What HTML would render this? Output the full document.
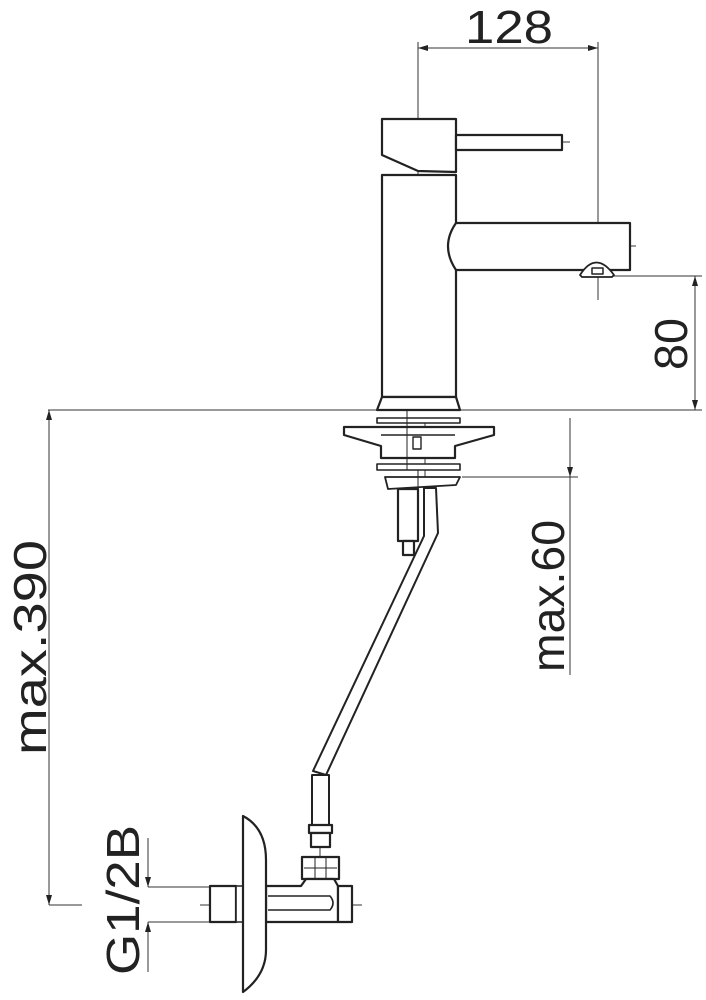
<!DOCTYPE html>
<html><head><meta charset="utf-8"><style>
html,body{margin:0;padding:0;background:#fff}
svg{display:block}
text{font-family:"Liberation Sans",Arial,sans-serif;fill:#222}
</style></head><body>
<svg width="706" height="1000" viewBox="0 0 706 1000" xmlns="http://www.w3.org/2000/svg">
<defs>
<marker id="a" viewBox="0 0 10 10" refX="10" refY="5" markerWidth="10" markerHeight="10" markerUnits="userSpaceOnUse" orient="auto-start-reverse"><path d="M0,2 L10,5 L0,8z" fill="#222"/></marker>
</defs>
<g stroke="#333" stroke-width="1" fill="none">
<line x1="418" y1="42" x2="418" y2="410"/>
<line x1="598" y1="42" x2="598" y2="300"/>
<line x1="418" y1="48" x2="598" y2="48" marker-start="url(#a)" marker-end="url(#a)"/>
<line x1="600" y1="276" x2="702" y2="276"/>
<line x1="48" y1="410" x2="702" y2="410"/>
<line x1="695" y1="276" x2="695" y2="410" marker-start="url(#a)" marker-end="url(#a)"/>
<line x1="462" y1="477" x2="578" y2="477"/>
<line x1="570" y1="418" x2="570" y2="477" marker-end="url(#a)"/>
<line x1="570" y1="477" x2="570" y2="675"/>
<line x1="49" y1="410" x2="49" y2="905" marker-start="url(#a)" marker-end="url(#a)"/>
<line x1="49" y1="905" x2="82" y2="905"/>
<line x1="148" y1="838" x2="148" y2="887" marker-end="url(#a)"/>
<line x1="148" y1="922" x2="148" y2="972" marker-start="url(#a)"/>
<line x1="148" y1="887" x2="215" y2="887"/>
<line x1="148" y1="922" x2="215" y2="922"/>
<line x1="440" y1="142" x2="570" y2="142"/>
<line x1="443" y1="246" x2="636" y2="246"/>
<line x1="425" y1="418" x2="425" y2="540"/>
<line x1="200" y1="905" x2="362" y2="905"/>
<line x1="320" y1="780" x2="320" y2="890"/>
</g>
<g stroke="#222" stroke-width="2.2" fill="#fff" stroke-linejoin="round">
<path d="M382,119 L456,119 L456,172 L418,171 L382,155 Z"/>
<rect x="456" y="135" width="106" height="15"/>
<rect x="382" y="175" width="74" height="222"/>
<path d="M456,223 L630,223 L630,270 L456,270 Q440,246 456,223 Z"/>
<path d="M580,275 Q596,250 614,275 L612,277 L582,277 Z" stroke-width="1.8"/>
<rect x="592" y="268" width="11" height="6" stroke-width="1.5"/>
<path d="M382,397 L456,397 L460,410 L377,410 Z"/>
<rect x="377" y="418" width="83" height="5" stroke-width="1.6"/>
<path d="M344,427 L494,427 L494,435 L455,446 L455,458 L381,458 L381,446 L344,435 Z"/>
<line x1="381" y1="435" x2="455" y2="435" stroke-width="1.6"/>
<rect x="377" y="464" width="83" height="6" stroke-width="1.6"/>
<path d="M385,477 L460,477 L456,485 L388,489 Z" stroke-width="1.8"/>
<rect x="413" y="437" width="8" height="12" stroke-width="1.4"/>
<rect x="398" y="489" width="20" height="52"/>
<rect x="403" y="541" width="11" height="14"/>
<path d="M424,488 L436,488 L438,533 L326,775 L313,771 L424,536 Z" stroke-width="2"/>
<rect x="312" y="775" width="17" height="50" stroke-width="2"/>
<rect x="309" y="825" width="23" height="8"/>
<rect x="311" y="833" width="19" height="14"/>
<rect x="302" y="857" width="37" height="22"/>
<path d="M266,886 L301,886 L306,879 L334,879 L338,886 L338,922 L266,922 Z"/>
<path d="M268,896 L330,896 Q336,903 330,910 L268,910" stroke-width="1.6"/>
<rect x="338" y="886" width="14" height="36"/>
<rect x="210" y="886" width="26" height="36"/>
<rect x="236" y="886" width="10" height="36" stroke-width="1.6"/>
<path d="M243,816 Q266,828 266,860 L266,950 Q266,975 243,992 Z"/>
</g>
<g stroke="#222" stroke-width="1" fill="none">
<line x1="407" y1="410" x2="407" y2="470"/>
<line x1="418" y1="470" x2="418" y2="489"/>
<line x1="304" y1="868" x2="337" y2="868"/>
<line x1="315" y1="857" x2="315" y2="879"/>
<line x1="326" y1="857" x2="326" y2="879"/>
</g>
<text x="465" y="43" font-size="46" textLength="88" lengthAdjust="spacingAndGlyphs">128</text>
<text transform="translate(687,370) rotate(-90)" font-size="46" textLength="52" lengthAdjust="spacingAndGlyphs">80</text>
<text transform="translate(564,672) rotate(-90)" font-size="46" textLength="152" lengthAdjust="spacingAndGlyphs">max.60</text>
<text transform="translate(46,755) rotate(-90)" font-size="46" textLength="215" lengthAdjust="spacingAndGlyphs">max.390</text>
<text transform="translate(139,975) rotate(-90)" font-size="46" textLength="150" lengthAdjust="spacingAndGlyphs">G1/2B</text>
</svg>
</body></html>
